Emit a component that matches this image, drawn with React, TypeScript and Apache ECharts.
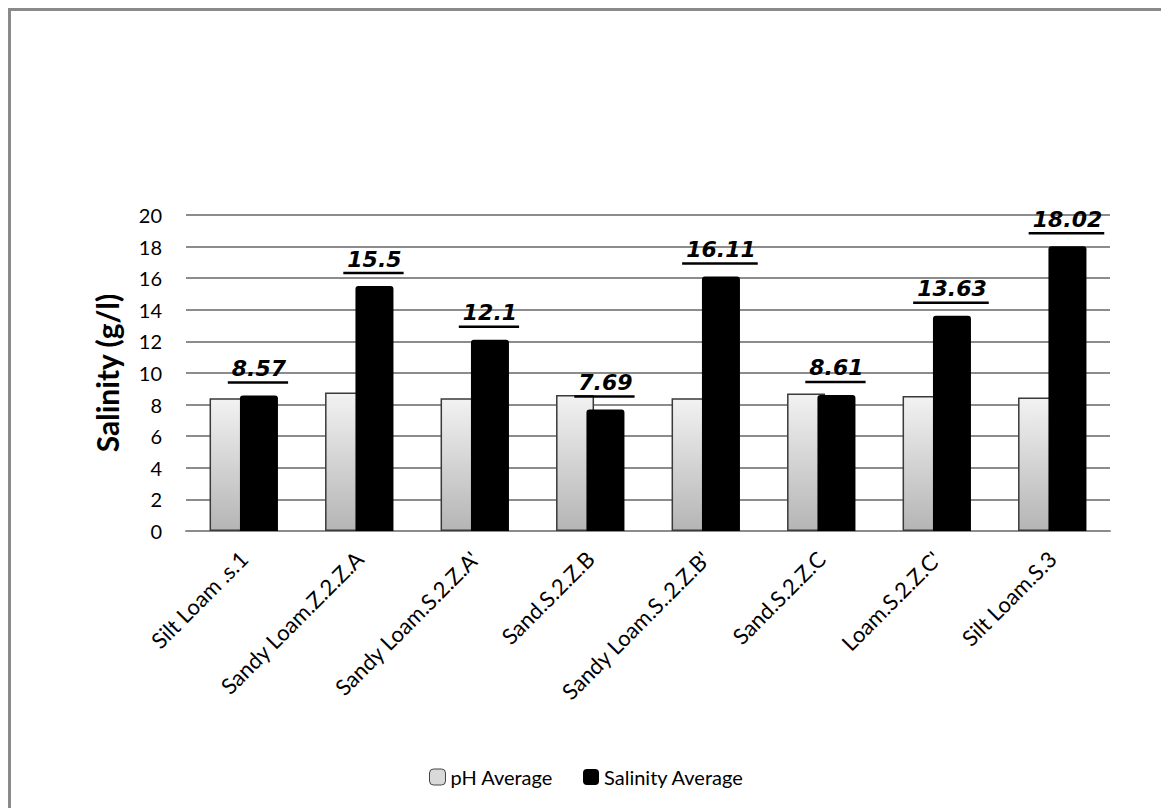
import React, { useEffect, useRef } from "react";
import * as echarts from "echarts";

const categories = [
  "Silt Loam .s.1",
  "Sandy Loam.Z.2.Z.A",
  "Sandy Loam.S.2.Z.A'",
  "Sand.S.2.Z.B",
  "Sandy Loam.S..2.Z.B'",
  "Sand.S.2.Z.C",
  "Loam.S.2.Z.C'",
  "Silt Loam.S.3",
];
const phAverage = [8.4, 8.77, 8.4, 8.6, 8.4, 8.7, 8.55, 8.45];
const salinityAverage = [8.57, 15.5, 12.1, 7.69, 16.11, 8.61, 13.63, 18.02];
const yTicks = { min: 0, max: 20, interval: 2 };

const LABEL_FONT = 22;
function textWidth(s: string) {
  let w = 0;
  for (const ch of s) w += ch === "." ? 0.38 * LABEL_FONT : 0.696 * LABEL_FONT;
  return w;
}

export default function App() {
  const ref = useRef<HTMLDivElement>(null);
  useEffect(() => {
    if (!ref.current) return;
    const chart = echarts.init(ref.current, null, { renderer: "svg" });
    const BAR_W = 38;
    const offset = (BAR_W * 2 - BAR_W * 0.2) / 2 - BAR_W / 2;
    chart.setOption({
      animation: false,
      backgroundColor: "#ffffff",
      textStyle: { fontFamily: "Lato" },
      grid: { left: 176, top: 205, width: 924, height: 316 },
      legend: {
        left: 414,
        top: 752,
        itemWidth: 16,
        itemHeight: 16,
        itemGap: 30,
        textStyle: { fontSize: 20, color: "#000", fontFamily: "Lato" },
        data: [
          { name: "pH Average", itemStyle: { color: "#d9d9d9", borderColor: "#444", borderWidth: 1 } },
          { name: "Salinity Average", itemStyle: { color: "#000" } },
        ],
      },
      xAxis: {
        type: "category",
        data: categories,
        axisLine: { lineStyle: { color: "#8c8c8c", width: 2 } },
        axisTick: { show: false },
        axisLabel: {
          rotate: 45,
          fontSize: 22,
          color: "#000",
          margin: 24,
          interval: 0,
          fontFamily: "Lato",
        },
      },
      yAxis: {
        type: "value",
        min: yTicks.min,
        max: yTicks.max,
        interval: yTicks.interval,
        name: "Salinity (g/l)",
        nameLocation: "middle",
        nameGap: 64,
        nameMoveOverlap: false,
        nameTextStyle: { fontSize: 30, fontWeight: "bold", color: "#000", fontFamily: "Lato" },
        axisLine: { show: false },
        axisTick: { show: false },
        axisLabel: { fontSize: 20, color: "#000", margin: 24, fontFamily: "Lato" },
        splitLine: { lineStyle: { color: "#8c8c8c", width: 2 } },
      },
      series: [
        {
          name: "pH Average",
          type: "bar",
          data: phAverage,
          barWidth: BAR_W,
          barGap: "-20%",
          itemStyle: {
            color: new echarts.graphic.LinearGradient(0, 0, 0, 1, [
              { offset: 0, color: "#f2f2f2" },
              { offset: 1, color: "#b5b5b5" },
            ]),
            borderColor: "#3a3a3a",
            borderWidth: 1.5,
          },
        },
        {
          name: "Salinity Average",
          type: "bar",
          data: salinityAverage,
          barWidth: BAR_W,
          itemStyle: { color: "#000", borderRadius: [3, 3, 0, 0] },
        },
        {
          name: "labels",
          type: "custom",
          data: salinityAverage.map((v, i) => [i, v]),
          clip: false,
          silent: true,
          z: 10,
          renderItem: (params: any, api: any) => {
            const idx = api.value(0);
            const val = api.value(1);
            const p = api.coord([idx, val]);
            const x = p[0] + offset;
            const y = p[1];
            const txt = String(salinityAverage[idx]);
            const w = textWidth(txt);
            return {
              type: "group",
              children: [
                {
                  type: "text",
                  x: x,
                  y: y - 16,
                  style: {
                    text: txt,
                    fill: "#000",
                    font: `italic bold ${LABEL_FONT}px "DejaVu Sans"`,
                    align: "center",
                    verticalAlign: "bottom",
                  },
                },
                {
                  type: "line",
                  shape: { x1: x - w / 2 - 4, y1: y - 13, x2: x + w / 2 + 2, y2: y - 13 },
                  style: { stroke: "#000", lineWidth: 2.5 },
                },
              ],
            };
          },
        },
      ],
    });
    return () => chart.dispose();
  }, []);
  return (
    <div
      style={{
        position: "fixed",
        left: 8,
        top: 8,
        width: 1200,
        height: 850,
        overflow: "hidden",
        borderTop: "3px solid #8a8a8a",
        borderLeft: "3px solid #8a8a8a",
        boxSizing: "border-box",
      }}
    >
      <div ref={ref} style={{ width: 1180, height: 798, marginLeft: -1, marginTop: -1 }} />
    </div>
  );
}
